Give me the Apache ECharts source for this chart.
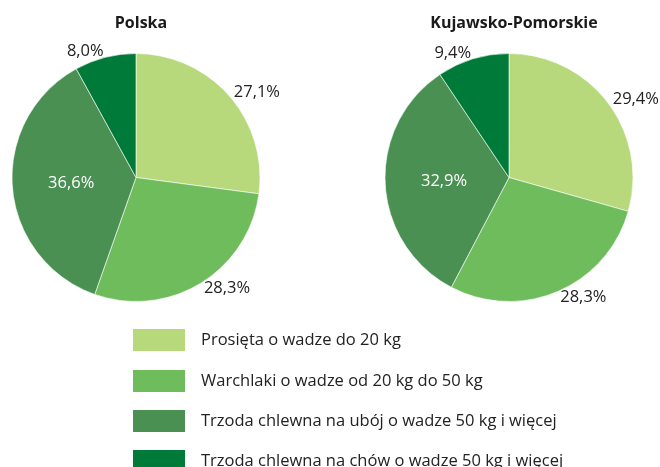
<!DOCTYPE html>
<html><head><meta charset="utf-8">
<script src="https://cdn.jsdelivr.net/npm/echarts@6/dist/echarts.min.js"></script>
<style>html,body{margin:0;padding:0;background:#fff}#c{width:660px;height:467px}</style>
</head><body><div id="c"></div>
<script>
var categories = ['Prosięta o wadze do 20 kg','Warchlaki o wadze od 20 kg do 50 kg','Trzoda chlewna na ubój o wadze 50 kg i więcej','Trzoda chlewna na chów o wadze 50 kg i więcej'];
var titles = ['Polska','Kujawsko-Pomorskie'];
var polskaValues = [27.1, 28.3, 36.6, 8.0];
var kujawskoValues = [29.4, 28.3, 32.9, 9.4];
var colors = ['#b7d97c','#6ebc5c','#4a9053','#007a38'];
var FONT = '"Open Sans"';

function mkData(vals){
  return vals.map(function(v,i){
    var d = {name: categories[i], value: v};
    if (i === 2) d.label = {position:'inside', color:'#fff'};
    return d;
  });
}
function mkSeries(vals, cx){
  return {
    type:'pie', radius: 124, center:[cx, 177.5], startAngle: 90, clockwise: true,
    silent: true, animation: false, avoidLabelOverlap: false,
    itemStyle:{borderColor:'#fff', borderWidth:0.6},
    label:{show:true, position:'outside', fontFamily:FONT, fontSize:16.5, color:'#222',
      distanceToLabelLine:0,
      formatter:function(p){return p.value.toFixed(1).replace('.',',')+'%';}},
    labelLine:{show:false, length:6, length2:0},
    data: mkData(vals)
  };
}
var chart = echarts.init(document.getElementById('c'), null, {renderer:'canvas'});
chart.setOption({
  color: colors,
  animation:false,
  title:[
    {text:titles[0], left:136, top:10, textAlign:'center', textStyle:{fontFamily:FONT, fontWeight:'bold', fontSize:16, color:'#1a1a1a'}},
    {text:titles[1], left:509, top:10, textAlign:'center', textStyle:{fontFamily:FONT, fontWeight:'bold', fontSize:16, color:'#1a1a1a'}}
  ],
  legend:[
    {data:[categories[0]], orient:'vertical', left:131, top:327, height:40, width:520, padding:0, itemWidth:54, itemHeight:24, icon:'rect', selectedMode:false,
     textStyle:{fontFamily:FONT, fontSize:16.5, color:'#222', padding:[0,0,0,10]}},
    {data:categories.slice(1), orient:'vertical', left:131, top:368, height:200, width:520, padding:0, itemGap:14, itemWidth:54, itemHeight:24, icon:'rect', selectedMode:false,
     textStyle:{fontFamily:FONT, fontSize:16.5, color:'#222', padding:[0,0,0,10]}}
  ],
  series:[ mkSeries(polskaValues, 136), mkSeries(kujawskoValues, 509) ]
});
</script></body></html>
